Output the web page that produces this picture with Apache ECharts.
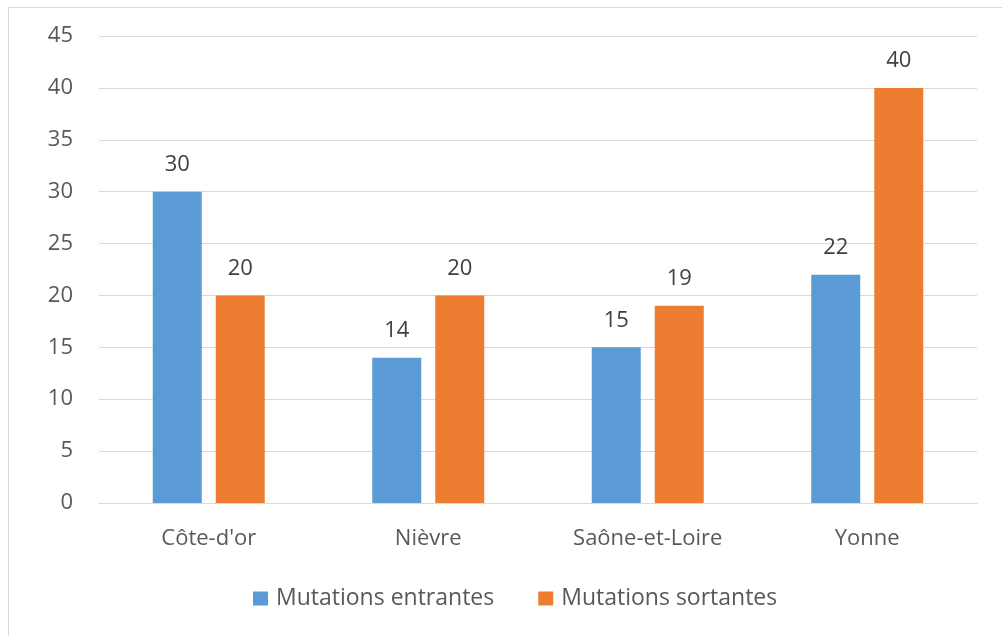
<!DOCTYPE html>
<html>
<head>
<meta charset="utf-8">
<script src="https://cdn.jsdelivr.net/npm/echarts@6/dist/echarts.min.js"></script>
<style>
html,body{margin:0;padding:0;background:#fff;}
#frame{position:absolute;left:8px;top:7px;width:1000px;height:640px;border:1px solid #d9d9d9;box-sizing:border-box;}
#chart{position:absolute;left:0;top:0;width:1002px;height:636px;}
</style>
</head>
<body>
<div id="frame"></div>
<div id="chart"></div>
<script>
const categories = ["Côte-d'or", "Nièvre", "Saône-et-Loire", "Yonne"];
const entrantes = [30, 14, 15, 22];
const sortantes = [20, 20, 19, 40];
const seriesNames = ["Mutations entrantes", "Mutations sortantes"];

const font = "'Open Sans', 'Noto Sans', sans-serif";
const chart = echarts.init(document.getElementById('chart'), null, {renderer:'canvas'});
const labelStyle = {show:true, position:'top', distance:16, color:'#404040', fontSize:22, fontFamily:font};
chart.setOption({
  animation:false,
  grid:{left:99, right:25, top:36, bottom:133, containLabel:false},
  legend:{
    top:587, left:253, itemWidth:15, itemHeight:14, itemGap:44,
    icon:'rect', padding:0,
    textStyle:{color:'#595959', fontSize:23, fontFamily:font, padding:[0,0,0,3]},
    data:seriesNames
  },
  xAxis:{
    type:'category', data:categories,
    axisLine:{show:true, lineStyle:{color:'#d9d9d9'}},
    axisTick:{show:false},
    axisLabel:{color:'#595959', fontSize:22, fontFamily:font, margin:25}
  },
  yAxis:{
    type:'value', min:0, max:45, interval:5,
    axisLine:{show:false}, axisTick:{show:false},
    splitLine:{lineStyle:{color:'#d9d9d9', width:1}},
    axisLabel:{color:'#595959', fontSize:22, fontFamily:font, margin:26}
  },
  series:[
    {name:seriesNames[0], type:'bar', data:entrantes, barWidth:49, barGap:'28.6%',
     itemStyle:{color:'#5b9bd5'}, label:labelStyle},
    {name:seriesNames[1], type:'bar', data:sortantes, barWidth:49,
     itemStyle:{color:'#ed7d31'}, label:labelStyle}
  ]
});
</script>
</body>
</html>
